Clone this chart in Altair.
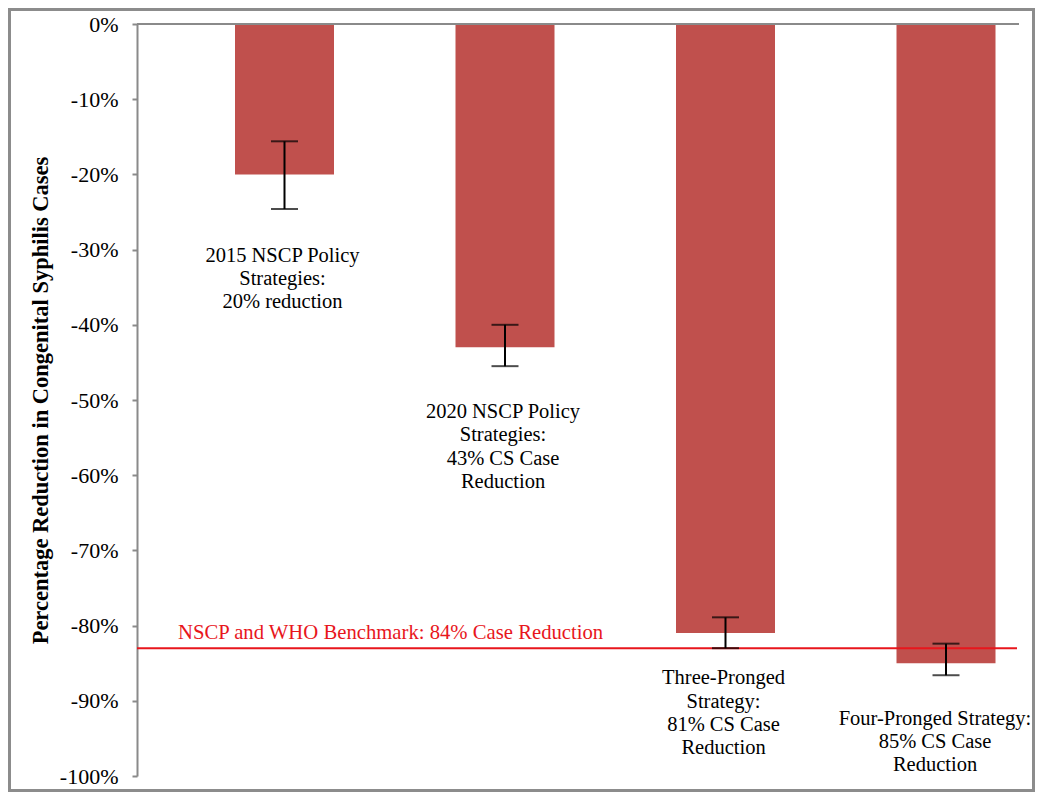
import altair as alt
import pandas as pd

# ---- data ----
categories = ["2015 NSCP", "2020 NSCP", "Three-Pronged", "Four-Pronged"]
reduction = [-20.0, -43.0, -81.0, -85.0]
err_high = [-15.6, -40.0, -78.9, -82.4]
err_low = [-24.6, -45.5, -83.0, -86.6]
bar_labels = [
    "2015 NSCP Policy\nStrategies:\n20% reduction",
    "2020 NSCP Policy\nStrategies:\n43% CS Case\nReduction",
    "Three-Pronged\nStrategy:\n81% CS Case\nReduction",
    "Four-Pronged Strategy:\n85% CS Case\nReduction",
]
label_anchor = [-31.6, -52.4, -87.8, -93.2]   # baseline of first label line (annotation anchor)
benchmark = -83.0
benchmark_text = "NSCP and WHO Benchmark: 84% Case Reduction"
y_ticks = list(range(-100, 1, 10))
y_title = "Percentage Reduction in Congenital Syphilis Cases"

df = pd.DataFrame({
    "cat": categories,
    "val": reduction,
    "hi": err_high,
    "lo": err_low,
    "label": bar_labels,
    "ly": label_anchor,
})

FONT = "Liberation Serif"
W, H = 882, 752
RED = "#e8161c"

xs = alt.X("cat:N", sort=categories,
           scale=alt.Scale(range=[37.25, 919.25], paddingInner=0, paddingOuter=0),
           axis=None)
ys = alt.Scale(domain=[-100, 0], nice=False, zero=False)

base = alt.Chart(df)

bars = base.mark_bar(color="#C0504D", size=99).encode(
    x=xs,
    y=alt.Y("val:Q", scale=ys,
            axis=alt.Axis(values=y_ticks, labelExpr="datum.value + '%'",
                          labelFont=FONT, labelFontSize=22, labelColor="black",
                          labelPadding=14, tickColor="#8a8a8a", tickSize=5, tickWidth=2,
                          domainColor="#8a8a8a", domainWidth=2, grid=False,
                          title=y_title, titleFont=FONT, titleFontSize=22.5,
                          titleFontWeight="bold", titleColor="black",
                          titleX=-90, titleY=376, titleBaseline="alphabetic",
                          titleAngle=270)),
    y2=alt.datum(0),
)

top_line = alt.Chart(pd.DataFrame({"a": [0]})).mark_rule(color="#8a8a8a", strokeWidth=2).encode(
    y=alt.datum(0, scale=ys), x=alt.value(0), x2=alt.value(W)
)

bench = alt.Chart(pd.DataFrame({"a": [0]})).mark_rule(color=RED, strokeWidth=2).encode(
    y=alt.datum(benchmark), x=alt.value(0), x2=alt.value(880)
)
bench_text = alt.Chart(pd.DataFrame({"a": [0]})).mark_text(
    align="left", baseline="alphabetic", dy=-9, font=FONT, fontSize=20.7, color=RED
).encode(y=alt.datum(benchmark), x=alt.value(41), text=alt.value(benchmark_text))

err = base.mark_rule(color="black", strokeWidth=2).encode(x=xs, y="hi:Q", y2="lo:Q")
cap_hi = base.mark_tick(color="black", size=27, thickness=2, orient="horizontal").encode(x=xs, y="hi:Q")
cap_lo = base.mark_tick(color="black", size=27, thickness=2, orient="horizontal").encode(x=xs, y="lo:Q")

labels = base.transform_filter(alt.datum.cat != "Four-Pronged").mark_text(
    align="center", baseline="alphabetic", font=FONT, fontSize=20.5, lineHeight=23.3,
    lineBreak="\n", color="black", dx=-2
).encode(x=xs, y="ly:Q", text="label:N")
labels4 = base.transform_filter(alt.datum.cat == "Four-Pronged").mark_text(
    align="center", baseline="alphabetic", font=FONT, fontSize=20.5, lineHeight=23.3,
    lineBreak="\n", color="black", dx=-11
).encode(x=xs, y="ly:Q", text="label:N")

frame = alt.Chart(pd.DataFrame({"a": [0]})).mark_rect(
    fillOpacity=0, stroke="#8c8c8c", strokeWidth=3
).encode(x=alt.value(-127.5), x2=alt.value(896.5), y=alt.value(-14.5), y2=alt.value(766.5))

chart = alt.layer(
    bars, bench, top_line, err, cap_hi, cap_lo, labels, labels4, bench_text, frame
).properties(
    width=W, height=H,
    autosize=alt.AutoSizeParams(type="none"),
    padding={"left": 129, "top": 16, "right": 16, "bottom": 16},
    background="white",
).configure_view(stroke=None)

chart.save("out.html", embed_options={"renderer": "svg", "actions": False})
